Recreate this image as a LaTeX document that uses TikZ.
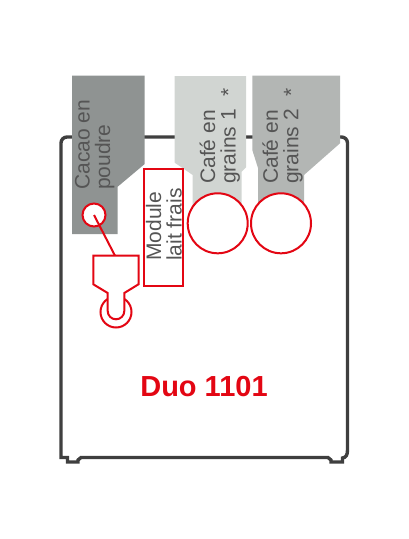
\documentclass[tikz,border=0pt]{standalone}
\usepackage{fontspec}
\setmainfont{Liberation Sans}
\definecolor{bodyc}{HTML}{3F3F3F}
\definecolor{redc}{HTML}{E30613}
\definecolor{cacaoc}{HTML}{8F9392}
\definecolor{cafeone}{HTML}{D1D5D2}
\definecolor{cafetwo}{HTML}{B3B6B4}
\definecolor{textc}{HTML}{555555}
\tikzset{
  cabinet/.style={draw=bodyc,line width=3.4pt,line join=miter},
  silo/.style={draw=none},
  redline/.style={draw=redc,line width=2pt},
  redfill/.style={redline,fill=white},
  lbl/.style={text=textc,font=\fontsize{21}{20.5}\selectfont,rotate=90,align=left,inner sep=0pt,anchor=base west},
  title/.style={text=redc,font=\fontsize{29}{30}\selectfont\bfseries,inner sep=0pt,anchor=base}
}
\begin{document}
\begin{tikzpicture}[x=1pt,y=-1pt]
\useasboundingbox (0,0) rectangle (408,539);
% cabinet
\draw[cabinet] (61,457.5) -- (61,143) arc[start angle=180,end angle=270,radius=6] -- (341.5,137) arc[start angle=270,end angle=360,radius=6] -- (347.5,450)
  .. controls (347.5,455) and (346,457.5) .. (342.5,458) -- (342.5,462) -- (331,462) -- (331,460) -- (328,457.5) -- (81,457.5) -- (78,460) -- (78,462) -- (67.5,462) -- (67.5,457.5) -- cycle;
% silos
\path[silo,fill=cacaoc] (72,75.5) -- (144.7,75.5) -- (144.7,164) -- (117.7,186.7) -- (117.7,234) -- (72,234) -- cycle;
\path[silo,fill=cafeone] (174.7,76) -- (246,76) -- (246,167.3) -- (241.7,171.7) -- (241.7,230) -- (192.7,230) -- (192.7,175) -- (174.7,162.7) -- cycle;
\path[silo,fill=cafetwo] (252.3,75.5) -- (340,75.5) -- (340,143.3) -- (304,175) -- (304,230) -- (258,230) -- (258,168) -- (252.3,150) -- cycle;
% dispenser
\node[circle,redfill,minimum size=23pt,inner sep=0pt] (cacaoout) at (94,215) {};
\coordinate (cacaocentre) at (94,215);
\coordinate (hoppertop) at (115,255.7);
\draw[redline] (cacaocentre) -- (hoppertop);
\node[circle,redline,minimum size=31pt,inner sep=0pt] (spout) at (116,312) {};
\path[redfill] (93.3,255.7) -- (138.5,255.7) -- (138.5,284.3) -- (124.3,293) -- (124.3,311) arc[start angle=0,end angle=180,x radius=8.3,y radius=8.3] -- (107.7,293) -- (93.3,284.3) -- cycle;
% circles
\node[circle,redfill,minimum size=60pt,inner sep=0pt] (grinderone) at (217.7,223.3) {};
\node[circle,redfill,minimum size=60pt,inner sep=0pt] (grindertwo) at (281,223.3) {};
% module
\node[redline,minimum width=38.7pt,minimum height=116.7pt,inner sep=0pt] (module) at (163.3,227.7) {};
% labels
\node[lbl] (cacao) at (110,190) {Cacao en\\poudre};
\node[lbl] (modtxt) at (181.5,261) {Module\\lait frais};
\node[lbl] (cafeun) at (235.7,184) {Café en\\grains 1\hspace{0.3em} *};
\node[lbl] (cafedeux) at (298.3,184) {Café en\\grains 2\hspace{0.3em} *};
\node[title] (duo) at (204,396.7) {Duo 1101};
\end{tikzpicture}
\end{document}
